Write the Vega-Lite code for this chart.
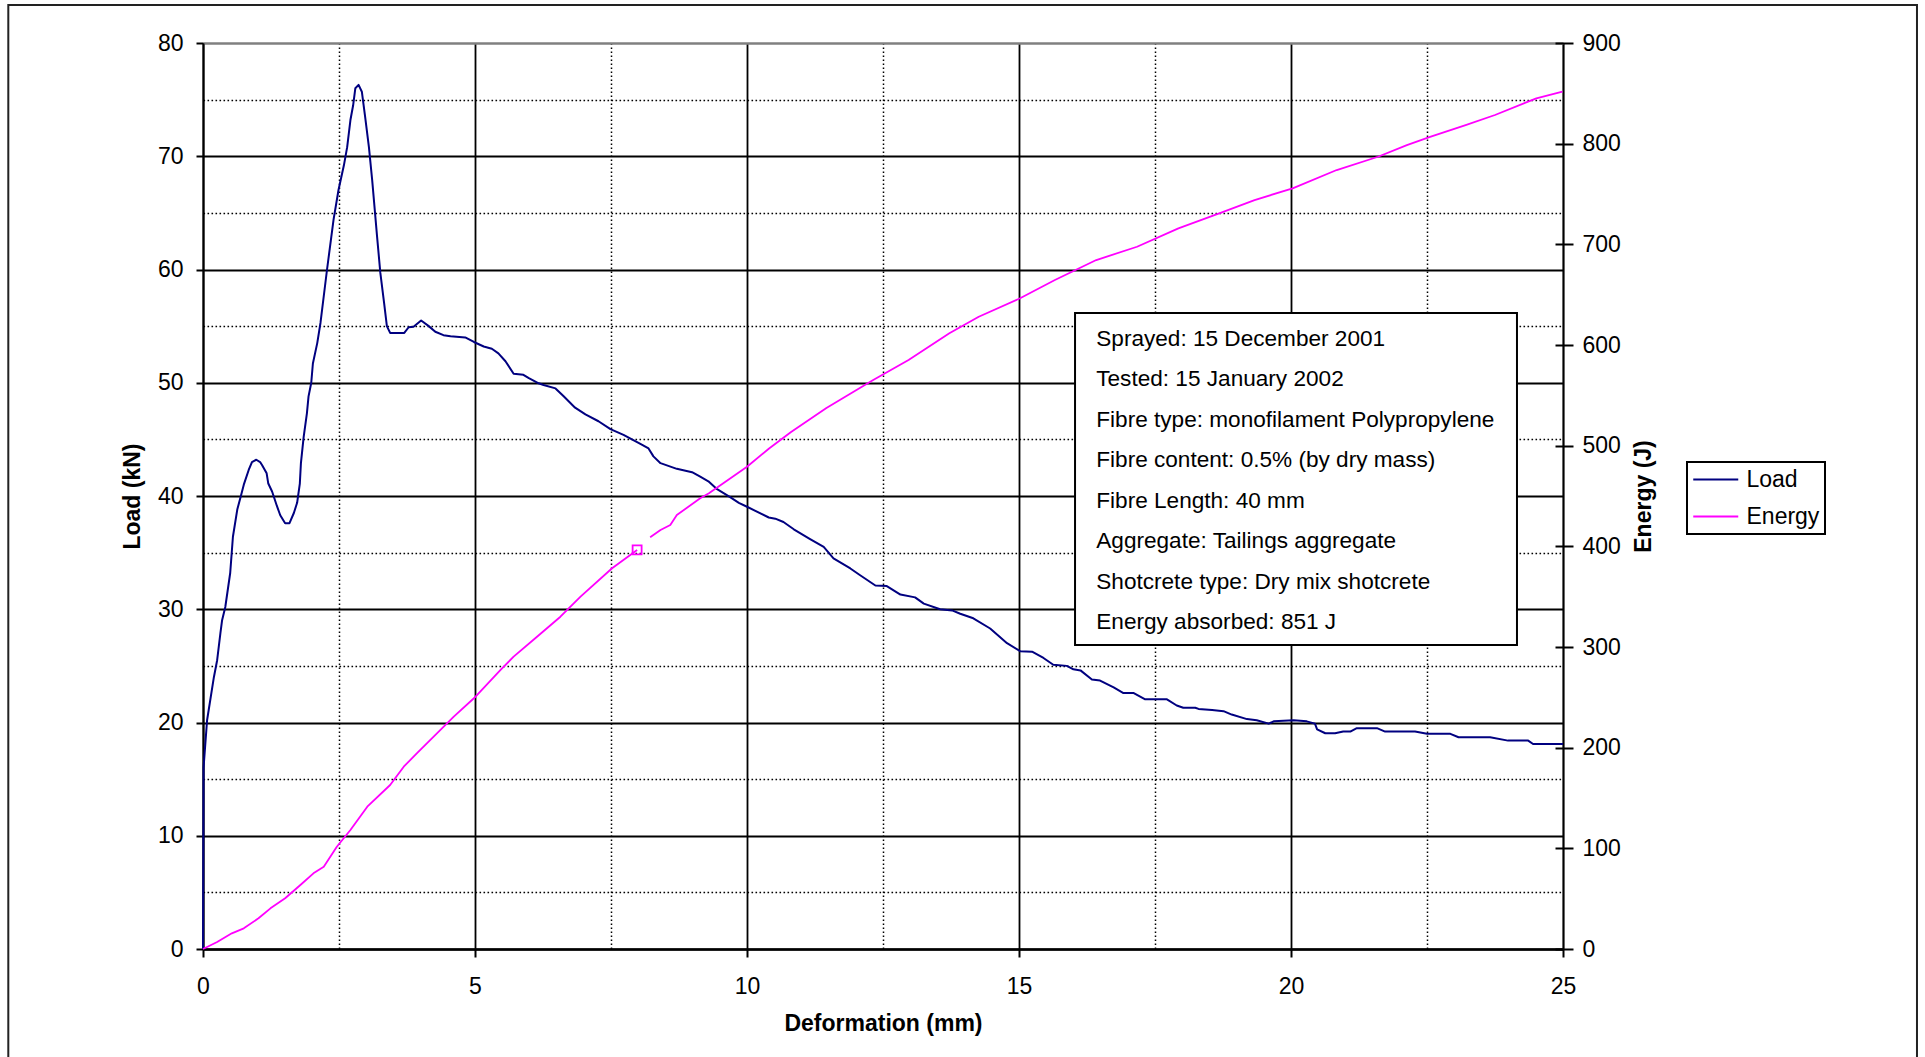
{
  "$schema": "https://vega.github.io/schema/vega-lite/v6.json",
  "width": 1360,
  "height": 906,
  "autosize": {"type": "none"},
  "padding": {"left": 203, "top": 43, "right": 362, "bottom": 108},
  "background": "white",
  "datasets": {
    "load": [
      {"d":0,"load":0},{"d":0.01,"load":16.0},{"d":0.075,"load":20.2},{"d":0.2,"load":24.0},{"d":0.26,"load":25.5},{"d":0.32,"load":27.9},{"d":0.35,"load":29.0},{"d":0.41,"load":30.2},{"d":0.5,"load":33.2},{"d":0.55,"load":36.4},{"d":0.63,"load":38.8},{"d":0.69,"load":39.9},{"d":0.75,"load":41.0},{"d":0.84,"load":42.3},{"d":0.9,"load":43.0},{"d":0.98,"load":43.2},{"d":1.05,"load":43.0},{"d":1.09,"load":42.7},{"d":1.17,"load":42.0},{"d":1.2,"load":41.1},{"d":1.27,"load":40.4},{"d":1.36,"load":39.1},{"d":1.42,"load":38.3},{"d":1.51,"load":37.6},{"d":1.59,"load":37.6},{"d":1.67,"load":38.5},{"d":1.73,"load":39.4},{"d":1.78,"load":41.1},{"d":1.8,"load":42.9},{"d":1.85,"load":45.2},{"d":1.91,"load":47.3},{"d":1.94,"load":48.8},{"d":1.99,"load":50.0},{"d":2.02,"load":51.7},{"d":2.1,"load":53.5},{"d":2.16,"load":55.3},{"d":2.28,"load":60.0},{"d":2.4,"load":64.4},{"d":2.49,"load":67.0},{"d":2.59,"load":69.2},{"d":2.65,"load":70.8},{"d":2.71,"load":73.2},{"d":2.76,"load":74.5},{"d":2.8,"load":76.0},{"d":2.86,"load":76.3},{"d":2.92,"load":75.7},{"d":2.98,"load":73.5},{"d":3.05,"load":70.8},{"d":3.11,"load":67.9},{"d":3.2,"load":62.9},{"d":3.26,"load":59.7},{"d":3.33,"load":57.0},{"d":3.38,"load":55.0},{"d":3.44,"load":54.4},{"d":3.7,"load":54.4},{"d":3.78,"load":54.9},{"d":3.87,"load":54.95},{"d":4.01,"load":55.5},{"d":4.15,"load":55.0},{"d":4.27,"load":54.5},{"d":4.42,"load":54.2},{"d":4.55,"load":54.1},{"d":4.82,"load":54.0},{"d":4.98,"load":53.6},{"d":5.16,"load":53.2},{"d":5.31,"load":53.0},{"d":5.43,"load":52.6},{"d":5.56,"load":51.9},{"d":5.71,"load":50.8},{"d":5.89,"load":50.7},{"d":5.99,"load":50.4},{"d":6.17,"load":49.95},{"d":6.26,"load":49.8},{"d":6.48,"load":49.5},{"d":6.63,"load":48.8},{"d":6.84,"load":47.8},{"d":7.03,"load":47.2},{"d":7.27,"load":46.6},{"d":7.49,"load":45.9},{"d":7.73,"load":45.4},{"d":8.04,"load":44.6},{"d":8.19,"load":44.2},{"d":8.28,"load":43.5},{"d":8.41,"load":42.9},{"d":8.71,"load":42.4},{"d":8.99,"load":42.1},{"d":9.14,"load":41.7},{"d":9.29,"load":41.3},{"d":9.45,"load":40.6},{"d":9.69,"load":39.9},{"d":9.85,"load":39.4},{"d":10.0,"load":39.05},{"d":10.4,"load":38.1},{"d":10.52,"load":38.0},{"d":10.67,"load":37.7},{"d":10.86,"load":37.06},{"d":11.16,"load":36.2},{"d":11.41,"load":35.5},{"d":11.59,"load":34.5},{"d":11.9,"load":33.6},{"d":12.08,"load":33.0},{"d":12.36,"load":32.1},{"d":12.57,"load":32.05},{"d":12.82,"load":31.3},{"d":13.09,"load":31.05},{"d":13.25,"load":30.5},{"d":13.55,"load":30.0},{"d":13.77,"load":29.9},{"d":13.92,"load":29.6},{"d":14.16,"load":29.2},{"d":14.47,"load":28.3},{"d":14.78,"load":27.0},{"d":15.02,"load":26.3},{"d":15.24,"load":26.25},{"d":15.45,"load":25.7},{"d":15.63,"load":25.1},{"d":15.88,"load":25.0},{"d":16.0,"load":24.7},{"d":16.13,"load":24.6},{"d":16.34,"load":23.8},{"d":16.49,"load":23.7},{"d":16.74,"load":23.1},{"d":16.92,"load":22.6},{"d":17.11,"load":22.6},{"d":17.32,"load":22.05},{"d":17.72,"load":22.05},{"d":17.9,"load":21.5},{"d":18.02,"load":21.3},{"d":18.24,"load":21.3},{"d":18.3,"load":21.2},{"d":18.55,"load":21.1},{"d":18.76,"load":21.0},{"d":18.91,"load":20.7},{"d":19.19,"load":20.3},{"d":19.37,"load":20.2},{"d":19.59,"load":19.9},{"d":19.68,"load":20.1},{"d":20.05,"load":20.2},{"d":20.29,"load":20.1},{"d":20.44,"load":19.9},{"d":20.48,"load":19.4},{"d":20.63,"load":19.05},{"d":20.81,"load":19.05},{"d":20.96,"load":19.2},{"d":21.09,"load":19.2},{"d":21.21,"load":19.5},{"d":21.58,"load":19.5},{"d":21.73,"load":19.2},{"d":22.28,"load":19.2},{"d":22.5,"load":19.0},{"d":22.93,"load":19.0},{"d":23.08,"load":18.7},{"d":23.66,"load":18.7},{"d":23.99,"load":18.4},{"d":24.36,"load":18.4},{"d":24.45,"load":18.1},{"d":25.0,"load":18.1}
    ],
    "energy": [
      {"d":0,"energy":0,"seg":1},{"d":0.26,"energy":7,"seg":1},{"d":0.53,"energy":15.6,"seg":1},{"d":0.75,"energy":20.5,"seg":1},{"d":1.02,"energy":30.5,"seg":1},{"d":1.24,"energy":40.4,"seg":1},{"d":1.51,"energy":50.4,"seg":1},{"d":1.79,"energy":63.6,"seg":1},{"d":2.03,"energy":75.2,"seg":1},{"d":2.22,"energy":81.8,"seg":1},{"d":2.46,"energy":101.6,"seg":1},{"d":2.71,"energy":118.2,"seg":1},{"d":3.02,"energy":141.4,"seg":1},{"d":3.44,"energy":162.9,"seg":1},{"d":3.69,"energy":181.1,"seg":1},{"d":3.93,"energy":194.4,"seg":1},{"d":4.24,"energy":210.9,"seg":1},{"d":4.61,"energy":230.8,"seg":1},{"d":5.01,"energy":250.6,"seg":1},{"d":5.47,"energy":277.2,"seg":1},{"d":5.71,"energy":290.4,"seg":1},{"d":6.14,"energy":310.2,"seg":1},{"d":6.57,"energy":330.1,"seg":1},{"d":6.94,"energy":350,"seg":1},{"d":7.52,"energy":378.2,"seg":1},{"d":7.98,"energy":396.4,"seg":1},
      {"d":8.22,"energy":409,"seg":2},{"d":8.41,"energy":416.2,"seg":2},{"d":8.59,"energy":421.2,"seg":2},{"d":8.71,"energy":431.1,"seg":2},{"d":9.14,"energy":447.7,"seg":2},{"d":9.3,"energy":452.7,"seg":2},{"d":10.0,"energy":479,"seg":2},{"d":10.4,"energy":497,"seg":2},{"d":10.81,"energy":513.6,"seg":2},{"d":11.46,"energy":537.4,"seg":2},{"d":12.32,"energy":565.2,"seg":2},{"d":12.97,"energy":585.1,"seg":2},{"d":13.72,"energy":611.6,"seg":2},{"d":14.26,"energy":628.1,"seg":2},{"d":15.02,"energy":646.4,"seg":2},{"d":15.66,"energy":664.6,"seg":2},{"d":16.42,"energy":684.4,"seg":2},{"d":17.17,"energy":697.6,"seg":2},{"d":17.93,"energy":715.9,"seg":2},{"d":18.68,"energy":730.8,"seg":2},{"d":19.33,"energy":744,"seg":2},{"d":20.03,"energy":755.6,"seg":2},{"d":20.84,"energy":773.8,"seg":2},{"d":21.6,"energy":787,"seg":2},{"d":22.13,"energy":798.6,"seg":2},{"d":22.57,"energy":806.9,"seg":2},{"d":23.21,"energy":818.5,"seg":2},{"d":23.75,"energy":828.5,"seg":2},{"d":24.51,"energy":845,"seg":2},{"d":24.99,"energy":851.6,"seg":2}
    ],
    "marker": [{"d":7.98,"energy":396.4}]
  },
  "layer": [
    {
      "data": {"values": [{}]},
      "mark": {"type": "rect", "fillOpacity": 0, "stroke": "#222222", "strokeWidth": 2, "clip": false},
      "encoding": {
        "x": {"datum": -3.579, "type": "quantitative", "scale": {"domain": [0, 25], "nice": false, "zero": false}, "axis": null},
        "x2": {"datum": 31.507},
        "y": {"datum": -10.7, "type": "quantitative", "scale": {"domain": [0, 80], "nice": false}, "axis": null},
        "y2": {"datum": 83.36}
      }
    },
    {
      "data": {"values": [{}]},
      "mark": {"type": "rect", "fill": "white", "stroke": "black", "strokeWidth": 2},
      "encoding": {
        "x": {"datum": 16.03, "type": "quantitative", "scale": {"domain": [0, 25], "nice": false, "zero": false}, "axis": null},
        "x2": {"datum": 24.154},
        "y": {"datum": 26.84, "type": "quantitative", "scale": {"domain": [0, 80], "nice": false}, "axis": null},
        "y2": {"datum": 56.16}
      }
    },
    {
      "data": {"values": [{}]},
      "mark": {"type": "text", "align": "left", "baseline": "alphabetic", "font": "Liberation Sans", "fontSize": 22.6, "lineHeight": 40.5, "color": "black"},
      "encoding": {
        "x": {"datum": 16.42, "type": "quantitative", "scale": {"domain": [0, 25], "nice": false, "zero": false}, "axis": null},
        "y": {"datum": 53.25, "type": "quantitative", "scale": {"domain": [0, 80], "nice": false}, "axis": null},
        "text": {"value": ["Sprayed: 15 December 2001", "Tested: 15 January 2002", "Fibre type: monofilament Polypropylene", "Fibre content: 0.5% (by dry mass)", "Fibre Length: 40 mm", "Aggregate: Tailings aggregate", "Shotcrete type: Dry mix shotcrete", "Energy absorbed: 851 J"]}
      }
    },
    {
      "data": {"name": "load"},
      "mark": {"type": "line", "strokeWidth": 2, "strokeJoin": "round"},
      "encoding": {
        "x": {
          "field": "d", "type": "quantitative",
          "scale": {"domain": [0, 25], "nice": false, "zero": false},
          "axis": {
            "title": "Deformation (mm)",
            "values": [0, 2.5, 5, 7.5, 10, 12.5, 15, 17.5, 20, 22.5, 25],
            "labelExpr": "datum.value % 5 === 0 ? datum.label : ''",
            "grid": true, "gridOpacity": 1,
            "gridColor": "black",
            "gridDash": {"condition": {"test": "datum.value % 5 !== 0", "value": [1.6, 2.4]}, "value": []},
            "gridWidth": {"condition": [{"test": "datum.value % 5 !== 0", "value": 1.5}, {"test": "datum.value === 25", "value": 2.2}], "value": 1.8},
            "domain": true, "domainColor": "black", "domainWidth": 2.5,
            "tickSize": 8, "tickWidth": 2, "tickColor": "black",
            "tickOpacity": {"condition": {"test": "datum.value % 5 !== 0", "value": 0}, "value": 1},
            "labelPadding": 18, "labelFont": "Liberation Sans", "labelFontSize": 23, "labelColor": "black", "labelFlush": false, "labelOverlap": false, "labelBound": false,
            "titleFont": "Liberation Sans", "titleFontSize": 23, "titleFontWeight": "bold", "titleColor": "black", "titlePadding": 14.5
          }
        },
        "y": {
          "field": "load", "type": "quantitative",
          "scale": {"domain": [0, 80], "nice": false},
          "axis": {
            "orient": "left",
            "title": "Load (kN)",
            "values": [0, 5, 10, 15, 20, 25, 30, 35, 40, 45, 50, 55, 60, 65, 70, 75, 80],
            "labelExpr": "datum.value % 10 === 0 ? datum.label : ''",
            "grid": true, "gridOpacity": 1,
            "gridColor": {"condition": {"test": "datum.value === 80", "value": "#808080"}, "value": "black"},
            "gridDash": {"condition": {"test": "datum.value % 10 !== 0", "value": [1.6, 2.4]}, "value": []},
            "gridWidth": {"condition": [{"test": "datum.value === 80", "value": 2.5}, {"test": "datum.value % 10 !== 0", "value": 1.5}], "value": 1.8},
            "domain": true, "domainColor": "black", "domainWidth": 2,
            "tickSize": 7, "tickWidth": 2, "tickColor": "black",
            "tickOpacity": {"condition": {"test": "datum.value % 10 !== 0", "value": 0}, "value": 1},
            "labelPadding": 13, "labelFont": "Liberation Sans", "labelFontSize": 23, "labelColor": "black", "labelFlush": false, "labelOverlap": false, "labelBound": false,
            "titleFont": "Liberation Sans", "titleFontSize": 23, "titleFontWeight": "bold", "titleColor": "black", "titlePadding": 12.5
          }
        },
        "color": {
          "datum": "Load",
          "scale": {"domain": ["Load", "Energy"], "range": ["#000080", "#FF00FF"]},
          "legend": {
            "title": null, "orient": "none", "legendX": 1484, "legendY": 419,
            "symbolType": "M-2,0H2", "symbolSize": 506.25, "symbolOffset": 11.25, "symbolStrokeWidth": 2,
            "labelOffset": 18.25, "labelExpr": "datum.label + '\u00a0'", "labelFont": "Liberation Sans", "labelFontSize": 23, "labelColor": "black",
            "padding": 5, "rowPadding": 12, "strokeColor": "black", "fillColor": "white"
          }
        }
      }
    },
    {
      "data": {"name": "energy"},
      "mark": {"type": "line", "strokeWidth": 1.8, "strokeJoin": "round"},
      "encoding": {
        "x": {"field": "d", "type": "quantitative", "scale": {"domain": [0, 25], "nice": false, "zero": false}, "axis": null},
        "y": {
          "field": "energy", "type": "quantitative",
          "scale": {"domain": [0, 900], "nice": false},
          "axis": {
            "orient": "right",
            "title": "Energy (J)",
            "values": [0, 100, 200, 300, 400, 500, 600, 700, 800, 900],
            "grid": false, "domain": false, "offset": -8,
            "tickSize": 18, "tickWidth": 2, "tickColor": "black",
            "labelPadding": 9, "labelFont": "Liberation Sans", "labelFontSize": 23, "labelColor": "black", "labelFlush": false, "labelOverlap": false, "labelBound": false,
            "titleFont": "Liberation Sans", "titleFontSize": 23, "titleFontWeight": "bold", "titleColor": "black", "titlePadding": 12,
            "titleAngle": 270, "titleBaseline": "top"
          }
        },
        "detail": {"field": "seg", "type": "nominal"},
        "color": {
          "datum": "Energy",
          "scale": {"domain": ["Load", "Energy"], "range": ["#000080", "#FF00FF"]},
          "legend": {
            "title": null, "orient": "none", "legendX": 1484, "legendY": 419,
            "symbolType": "M-2,0H2", "symbolSize": 506.25, "symbolOffset": 11.25, "symbolStrokeWidth": 2,
            "labelOffset": 18.25, "labelExpr": "datum.label + '\u00a0'", "labelFont": "Liberation Sans", "labelFontSize": 23, "labelColor": "black",
            "padding": 5, "rowPadding": 12, "strokeColor": "black", "fillColor": "white"
          }
        }
      }
    },
    {
      "data": {"name": "marker"},
      "mark": {"type": "point", "shape": "square", "filled": false, "size": 81, "color": "#FF00FF", "strokeWidth": 1.8, "opacity": 1},
      "encoding": {
        "x": {"field": "d", "type": "quantitative", "scale": {"domain": [0, 25], "nice": false, "zero": false}, "axis": null},
        "y": {"field": "energy", "type": "quantitative", "scale": {"domain": [0, 900], "nice": false}, "axis": null}
      }
    }
  ],
  "resolve": {"scale": {"x": "independent", "y": "independent"}},
  "config": {
    "font": "Liberation Sans",
    "view": {"stroke": null},
    "legend": {"strokeWidth": 2}
  }
}
